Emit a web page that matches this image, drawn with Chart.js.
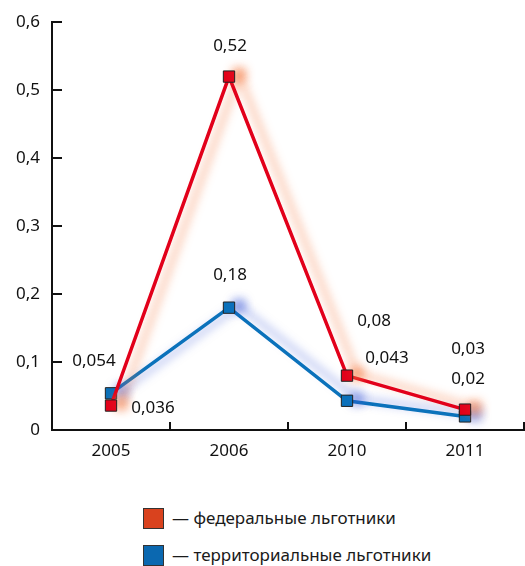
<!DOCTYPE html>
<html>
<head>
<meta charset="utf-8">
<script src="https://cdn.jsdelivr.net/npm/chart.js@4.4.1/dist/chart.umd.min.js"></script>
<style>
    body { margin: 0; background: #fff; font-family: 'Noto Sans', sans-serif; }
    #wrap { position: relative; width: 525px; height: 566px; overflow: hidden; }
    #box { position: absolute; left: 0; top: 0; width: 525px; height: 470px; }
    .leg { position: absolute; left: 143px; height: 20px; line-height: 20px; font-size: 17px; color: #1a1a1a; white-space: nowrap; }
    .leg span { display: inline-block; width: 19px; height: 19px; border: 1px solid #333; vertical-align: top; margin-right: 8px; }
</style>
</head>
<body>
<div id="wrap">
    <div id="box"><canvas id="lgotChart"></canvas></div>
    <div class="leg" style="top:508px"><span style="background:#d9421e"></span>— федеральные льготники</div>
    <div class="leg" style="top:545px"><span style="background:#0b68b0"></span>— территориальные льготники</div>
</div>
<script>
var years = ['2005', '2006', '2010', '2011'];
var federal = [0.036, 0.52, 0.08, 0.03];
var territorial = [0.054, 0.18, 0.043, 0.02];
var federalLabels = ['0,036', '0,52', '0,08', '0,03'];
var territorialLabels = ['0,054', '0,18', '0,043', '0,02'];

// сдвиг подписей относительно точки
var labelShift = [
    [[42, 3], [1, -30], [27, -54], [3, -60]],
    [[-17, -32], [1, -33], [40, -43], [3, -37]]
];

var shadowPlugin = {
    id: 'shadow',
    beforeDatasetDraw: function (chart, args) {
        var ctx = chart.ctx;
        ctx.save();
        ctx.shadowColor = args.index === 0 ? 'rgba(245,125,70,0.7)' : 'rgba(60,90,215,0.55)';
        ctx.shadowBlur = 10;
        ctx.shadowOffsetX = 10;
        ctx.shadowOffsetY = -2;
    },
    afterDatasetDraw: function (chart) {
        chart.ctx.restore();
    }
};

var ticksPlugin = {
    id: 'ticksMarks',
    afterDraw: function (chart) {
        var ctx = chart.ctx, a = chart.chartArea;
        var x = chart.scales.x, y = chart.scales.y;
        ctx.save();
        ctx.strokeStyle = '#111';
        ctx.lineWidth = 2;
        ctx.beginPath();
        y.ticks.forEach(function (t, i) {
            var py = Math.round(y.getPixelForTick(i));
            if (t.value === 0) return;
            ctx.moveTo(a.left, py);
            ctx.lineTo(a.left + 10, py);
        });
        var step = x.getPixelForValue(1) - x.getPixelForValue(0);
        for (var i = 1; i <= years.length; i++) {
            var px = Math.round(x.getPixelForValue(i - 1) + step / 2);
            ctx.moveTo(px, a.bottom);
            ctx.lineTo(px, a.bottom - 8);
        }
        ctx.stroke();

        ctx.fillStyle = '#111';
        ctx.font = '17px "Noto Sans"';
        ctx.textAlign = 'center';
        ctx.textBaseline = 'middle';
        [federalLabels, territorialLabels].forEach(function (labels, d) {
            var meta = chart.getDatasetMeta(d);
            meta.data.forEach(function (pt, j) {
                ctx.fillText(labels[j], pt.x + labelShift[d][j][0], pt.y + labelShift[d][j][1]);
            });
        });
        ctx.restore();
    }
};

var ctx = document.getElementById('lgotChart').getContext('2d');
var chart = new Chart(ctx, {
    type: 'line',
    data: {
        labels: years,
        datasets: [{
            label: 'федеральные льготники',
            data: federal,
            borderColor: '#e2001a',
            backgroundColor: '#e2001a',
            borderWidth: 3.5,
            pointStyle: 'rect',
            pointRadius: 8,
            pointBorderColor: '#222',
            pointBorderWidth: 1,
            fill: false
        }, {
            label: 'территориальные льготники',
            data: territorial,
            borderColor: '#0b72bb',
            backgroundColor: '#0b72bb',
            borderWidth: 3.5,
            pointStyle: 'rect',
            pointRadius: 8,
            pointBorderColor: '#222',
            pointBorderWidth: 1,
            fill: false
        }]
    },
    options: {
        responsive: true,
        maintainAspectRatio: false,
        animation: false,
        layout: { autoPadding: false, padding: { top: 20, right: 1, left: 0, bottom: 0 } },
        plugins: {
            legend: { display: false },
            tooltip: { enabled: false }
        },
        scales: {
            x: {
                offset: true,
                grid: { display: false, drawTicks: false },
                border: { display: true, color: '#111', width: 2 },
                ticks: { color: '#111', font: { family: 'Noto Sans', size: 17 }, padding: 11 },
                afterFit: function (s) { s.height = 40; }
            },
            y: {
                min: 0,
                max: 0.6,
                grid: { display: false, drawTicks: false },
                border: { display: true, color: '#111', width: 2 },
                ticks: {
                    stepSize: 0.1,
                    color: '#111',
                    padding: 12,
                    font: { family: 'Noto Sans', size: 17 },
                    callback: function (v) { return v === 0 ? '0' : v.toFixed(1).replace('.', ','); }
                },
                afterFit: function (s) { s.width = 52; }
            }
        }
    },
    plugins: [shadowPlugin, ticksPlugin]
});
</script>
</body>
</html>
